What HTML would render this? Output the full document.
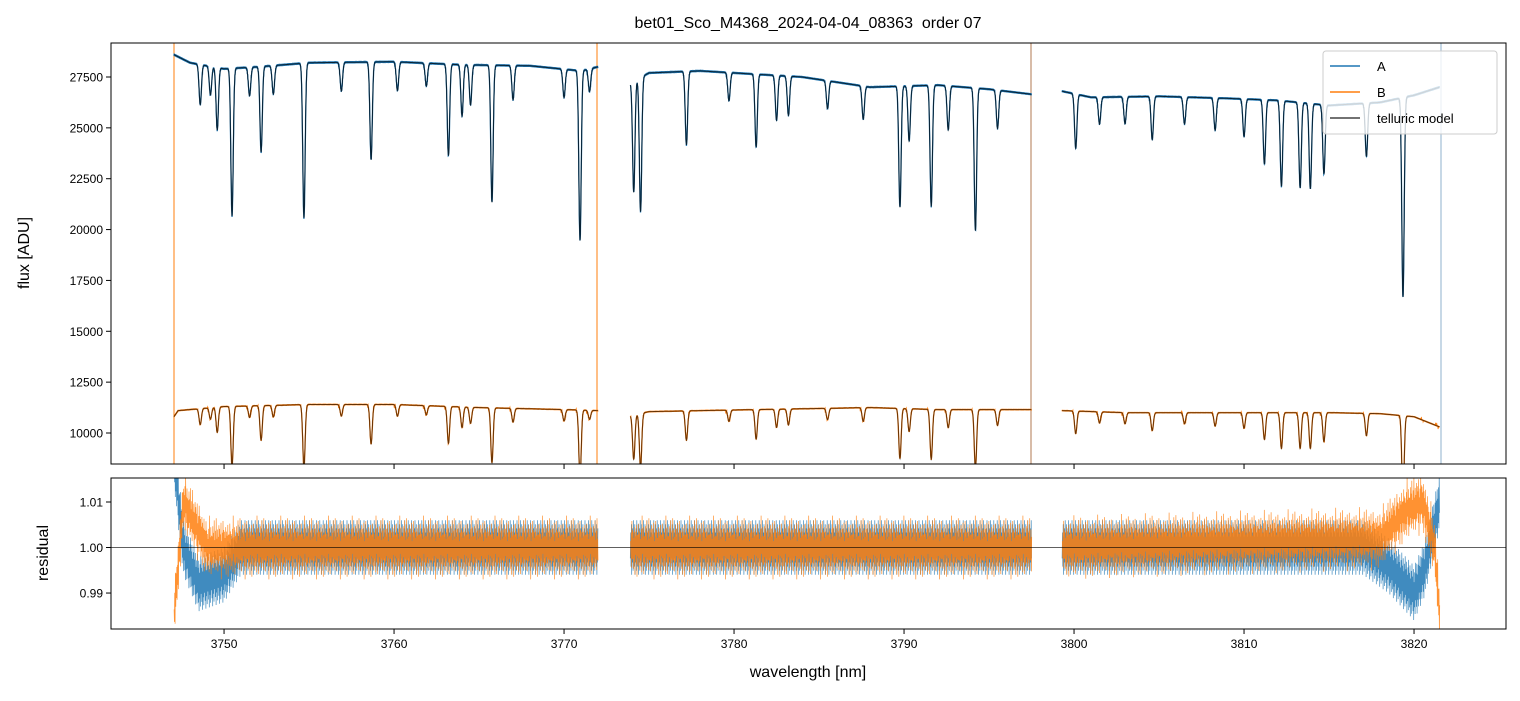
<!DOCTYPE html>
<html><head><meta charset="utf-8"><style>
body{margin:0;background:#fff;}
svg text{font-family:"Liberation Sans","DejaVu Sans",sans-serif;fill:#000;white-space:pre;}
</style></head><body>
<svg id="chart" width="1520" height="696" xmlns="http://www.w3.org/2000/svg">
<defs>
<clipPath id="ct"><rect x="111" y="43" width="1395" height="421"/></clipPath>
<clipPath id="cb"><rect x="111" y="478" width="1395" height="151"/></clipPath>
</defs>
<rect width="1520" height="696" fill="#fff"/>
<text x="808" y="28" font-size="16" text-anchor="middle">bet01_Sco_M4368_2024-04-04_08363  order 07</text>
<text transform="translate(29,253) rotate(-90)" font-size="16" text-anchor="middle">flux [ADU]</text>
<text transform="translate(48,553) rotate(-90)" font-size="16" text-anchor="middle">residual</text>
<text x="808" y="677" font-size="16" text-anchor="middle">wavelength [nm]</text>
<g id="gtop" clip-path="url(#ct)"></g><g id="gbot" clip-path="url(#cb)"></g>
<rect x="111" y="43" width="1395" height="421" fill="none" stroke="#000" stroke-width="1"/>
<rect x="111" y="478" width="1395" height="151" fill="none" stroke="#000" stroke-width="1"/>
<g id="axes"></g>
<g>
<rect x="1323" y="51" width="174" height="83" rx="3" fill="#fff" fill-opacity="0.8" stroke="#ccc"/>
<line x1="1330" y1="66" x2="1360" y2="66" stroke="#1f77b4" stroke-width="1.5"/>
<text x="1377" y="71" font-size="13">A</text>
<line x1="1330" y1="92" x2="1360" y2="92" stroke="#ff7f0e" stroke-width="1.5"/>
<text x="1377" y="97" font-size="13">B</text>
<line x1="1330" y1="118" x2="1360" y2="118" stroke="#444" stroke-width="1.5"/>
<text x="1377" y="123" font-size="13">telluric model</text>
</g>
</svg>
<script>
const segments=[[3747.05,3772.0],[3773.9,3797.5],[3799.3,3821.5]];
const contA=[[3747.05,28600],[3748,28200],[3750,27900],[3752,28000],[3755,28200],[3760,28250],[3764,28100],[3768,28050],[3771,27800],[3772,28000],
[3773.9,27200],[3775,27700],[3778,27800],[3781,27650],[3784,27500],[3788,27000],[3792,27100],[3795,26900],[3797.5,26650],
[3799.3,26800],[3801,26500],[3805,26550],[3809,26450],[3812,26350],[3815,26100],[3818,26250],[3820,26600],[3821.5,27000]];
const contB=[[3747.05,10800],[3747.3,11100],[3750,11300],[3755,11400],[3760,11400],[3765,11250],[3770,11150],[3772,11100],
[3773.9,10850],[3775,11050],[3778,11100],[3788,11250],[3792,11150],[3797.5,11150],
[3799.3,11100],[3803,11000],[3808,11000],[3815,11000],[3818,10950],[3820,10800],[3821.5,10300]];
const lineWl=[3748.6,3749.2,3749.6,3750.47,3751.5,3752.18,3752.9,3754.7,3756.9,3758.65,3760.2,3761.9,3763.2,3764.0,3764.5,3765.76,3767.0,3770.0,3770.94,3771.5,
3774.1,3774.5,3777.2,3779.7,3781.3,3782.5,3783.2,3785.5,3787.6,3789.76,3790.3,3791.6,3792.6,3794.2,3795.5,
3800.1,3801.5,3803.0,3804.6,3806.5,3808.3,3810.0,3811.2,3812.2,3813.3,3813.9,3814.7,3817.2,3819.35];
const lineDepth=[0.07,0.05,0.11,0.26,0.05,0.15,0.05,0.27,0.05,0.17,0.05,0.04,0.16,0.09,0.07,0.24,0.06,0.05,0.3,0.04,
0.2,0.24,0.13,0.05,0.13,0.08,0.07,0.05,0.06,0.22,0.1,0.22,0.08,0.26,0.07,
0.1,0.05,0.05,0.08,0.05,0.06,0.07,0.12,0.16,0.16,0.16,0.13,0.1,0.37];
const resA=[[3747.05,1.02],[3747.6,1.0],[3748.5,0.992],[3750,0.994],[3751,1.0],[3771,1.0],[3772,1.0],[3773.9,1.0],[3797.5,1.0],[3799.3,1.0],[3817,1.0],[3818.5,0.996],[3820,0.99],[3820.6,0.995],[3821.5,1.01]];
const resB=[[3747.05,0.985],[3747.6,1.01],[3748.3,1.005],[3749,1.0],[3772,1.0],[3773.9,1.0],[3797.5,1.0],[3799.3,1.0],[3818,1.002],[3819.5,1.008],[3820.5,1.01],[3821.2,1.0],[3821.5,0.985]];
const resHalfA=0.006, resHalfB=0.007;
const xTicks=[3750,3760,3770,3780,3790,3800,3810,3820];
const yTicksTop=[10000,12500,15000,17500,20000,22500,25000,27500];
const yTicksBot=[0.99,1.00,1.01];
const ns='http://www.w3.org/2000/svg';
const X=l=>111+(l-3743.35)/(3825.41-3743.35)*1395;
const YT=v=>43+(29171-v)/(29171-8476)*421;
const YB=v=>478+(1.01527-v)/(1.01527-0.9821)*151;
function interp(arr,l){if(l<=arr[0][0])return arr[0][1];for(let i=1;i<arr.length;i++){if(l<=arr[i][0]){const a=arr[i-1],b=arr[i];return a[1]+(b[1]-a[1])*(l-a[0])/(b[0]-a[0]);}}return arr[arr.length-1][1];}
function trans(l){let t=1;for(let i=0;i<lineWl.length;i++){const d=(l-lineWl[i])/0.07;if(Math.abs(d)<5)t*=1-lineDepth[i]*Math.exp(-0.5*d*d);}return t;}
function mk(tag,attrs,parent){const e=document.createElementNS(ns,tag);for(const k in attrs)e.setAttribute(k,attrs[k]);parent.appendChild(e);return e;}
const gT=document.getElementById('gtop'),gB=document.getElementById('gbot'),axesG=document.getElementById('axes');
[[174,'#ff7f0e'],[597,'#ff7f0e'],[1031,'#b07a50'],[1441,'#8fb0cc']].forEach(v=>{const ln=mk('line',{x1:v[0],x2:v[0],y1:43,y2:464,stroke:v[1],'stroke-width':1},gT);

});
segments.forEach(s=>{
 let pa='',pb='',pm='',pmb='',ra='',rb='';let k=0;
 for(let l=s[0];l<=s[1];l+=0.01){const t=trans(l);const a=interp(contA,l),b=interp(contB,l);
  pa+=(pa?'L':'M')+X(l).toFixed(1)+','+YT(a*t*(1+((k%3)-1)*0.002)).toFixed(1);
  pb+=(pb?'L':'M')+X(l).toFixed(1)+','+YT(b*t*(1+((k%3)-1)*0.003)).toFixed(1);
  pm+=(pm?'L':'M')+X(l).toFixed(1)+','+YT(a*t).toFixed(1);
  pmb+=(pmb?'L':'M')+X(l).toFixed(1)+','+YT(b*t).toFixed(1);k++;}
 k=0;
 for(let l=s[0];l<=s[1];l+=0.02){const sg=(k%2?1:-1)*((k%5)/4*0.6+0.4);
  ra+=(ra?'L':'M')+X(l).toFixed(1)+','+YB(interp(resA,l)+sg*resHalfA).toFixed(1);
  rb+=(rb?'L':'M')+X(l+0.01).toFixed(1)+','+YB(interp(resB,l)-sg*resHalfB*((k%7)/6*0.5+0.5)).toFixed(1);k++;}
 const e1=mk('path',{d:pa,fill:'none',stroke:'#1f77b4','stroke-width':1.3},gT);
 
 
 const e2=mk('path',{d:pb,fill:'none',stroke:'#ff7f0e','stroke-width':1.3},gT);
 
 
 const e3=mk('path',{d:pm,fill:'none',stroke:'rgba(0,0,0,0.72)','stroke-width':1},gT);
 
 
 const e4=mk('path',{d:pmb,fill:'none',stroke:'rgba(0,0,0,0.6)','stroke-width':1},gT);
 
 
 const e5=mk('path',{d:ra,fill:'none',stroke:'#1f77b4','stroke-width':0.7,'stroke-opacity':0.85},gB);
 
 
 const e6=mk('path',{d:rb,fill:'none',stroke:'#ff7f0e','stroke-width':0.7,'stroke-opacity':0.85},gB);
 
 
});
const h=mk('line',{x1:111,x2:1506,y1:YB(1),y2:YB(1),stroke:'#000','stroke-width':0.6},gB);


xTicks.forEach(v=>{const x=X(v);
 mk('line',{x1:x,x2:x,y1:464,y2:469,stroke:'#000'},axesG);
 mk('line',{x1:x,x2:x,y1:629,y2:634,stroke:'#000'},axesG);
 const t=mk('text',{x:x,y:648,'font-size':12,'text-anchor':'middle'},axesG);t.textContent=v;
 
 });
yTicksTop.forEach(v=>{const y=YT(v);mk('line',{x1:106,x2:111,y1:y,y2:y,stroke:'#000'},axesG);
 const t=mk('text',{x:103,y:y+4.5,'font-size':12,'text-anchor':'end'},axesG);t.textContent=v;
 
 });
yTicksBot.forEach(v=>{const y=YB(v);mk('line',{x1:106,x2:111,y1:y,y2:y,stroke:'#000'},axesG);
 const t=mk('text',{x:103,y:y+4.5,'font-size':12,'text-anchor':'end'},axesG);t.textContent=v.toFixed(2);
 
 });
</script>
</body></html>
